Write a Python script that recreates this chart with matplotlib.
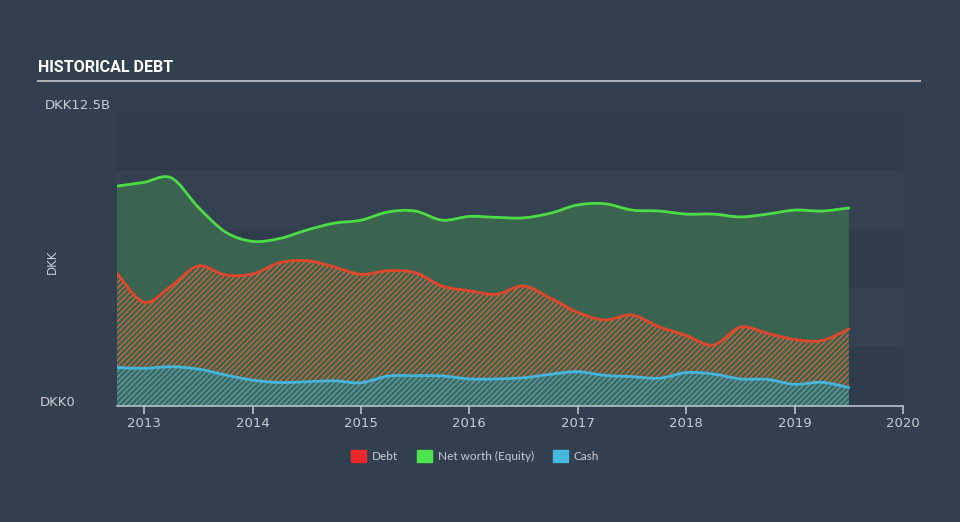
import matplotlib
matplotlib.use("Agg")
import matplotlib.pyplot as plt
from matplotlib.path import Path
from matplotlib.patches import PathPatch
import numpy as np

# quarterly dates (decimal years)
dates = [2012.75, 2013.0, 2013.25, 2013.5, 2013.75, 2014.0, 2014.25, 2014.5,
         2014.75, 2015.0, 2015.25, 2015.5, 2015.75, 2016.0, 2016.25, 2016.5,
         2016.75, 2017.0, 2017.25, 2017.5, 2017.75, 2018.0, 2018.25, 2018.5,
         2018.75, 2019.0, 2019.25, 2019.5]
# values in DKK billions
equity = [9.35, 9.51, 9.70, 8.45, 7.40, 7.00, 7.12, 7.48, 7.77, 7.90, 8.25, 8.29,
          7.90, 8.06, 8.02, 8.00, 8.20, 8.55, 8.60, 8.33, 8.29, 8.16, 8.16, 8.04,
          8.16, 8.33, 8.29, 8.42]
debt = [5.64, 4.41, 5.10, 5.95, 5.57, 5.61, 6.09, 6.18, 5.92, 5.60, 5.75, 5.67,
        5.10, 4.90, 4.75, 5.10, 4.58, 3.98, 3.66, 3.87, 3.37, 3.00, 2.59, 3.35,
        3.09, 2.83, 2.78, 3.27]
cash = [1.64, 1.60, 1.67, 1.57, 1.32, 1.10, 1.00, 1.03, 1.07, 0.99, 1.27, 1.29,
        1.28, 1.15, 1.15, 1.20, 1.35, 1.46, 1.30, 1.25, 1.18, 1.42, 1.36, 1.15,
        1.13, 0.92, 1.01, 0.78]
year_ticks = [2013, 2014, 2015, 2016, 2017, 2018, 2019, 2020]
y_labels = ["DKK0", "DKK12.5B"]

x = np.array(dates, dtype=float)
E = np.array(equity, dtype=float)
D = np.array(debt, dtype=float)
C = np.array(cash, dtype=float)


def bezier_segments(xs, ys):
    """Smooth path (cubic Bezier) through the given points."""
    n = len(xs)
    pts = np.column_stack([xs, ys])
    verts = [tuple(pts[0])]
    codes = [Path.MOVETO]
    for i in range(n - 1):
        p0 = pts[max(i - 1, 0)]
        p1 = pts[i]
        p2 = pts[i + 1]
        p3 = pts[min(i + 2, n - 1)]
        c1 = p1 + (p2 - p0) / 6.0
        c2 = p2 - (p3 - p1) / 6.0
        verts += [tuple(c1), tuple(c2), tuple(p2)]
        codes += [Path.CURVE4] * 3
    return verts, codes


def line_path(xs, ys):
    v, c = bezier_segments(xs, ys)
    return Path(v, c)


def band_path(xs, lo, hi):
    vu, cu = bezier_segments(xs, hi)
    vl, cl = bezier_segments(xs[::-1], lo[::-1])
    verts = vu + [vl[0]] + vl[1:] + [vu[0]]
    codes = cu + [Path.LINETO] + cl[1:] + [Path.CLOSEPOLY]
    return Path(verts, codes)


BG = "#323f4f"
GREEN = "#4ddc45"
RED = "#e0462a"
BLUE = "#45b5dc"
TXT = "#c8ccd2"

plt.rcParams['hatch.linewidth'] = 1.0
fig = plt.figure(figsize=(9.6, 5.22), dpi=100, facecolor=BG)
ax = fig.add_axes([117/960, 1-406/522, (903-117)/960, (406-112)/522])
ax.set_facecolor(BG)
ax.set_xlim(dates[0], 2020)
ax.set_ylim(0, 12.5)

# background bands
for i in range(5):
    col = "#2f3c4b" if i % 2 == 0 else "#344150"
    ax.axhspan(i*2.5, (i+1)*2.5, color=col, zorder=0, lw=0)

zeros = np.zeros_like(x)
ax.add_patch(PathPatch(band_path(x, zeros, E), facecolor="#3a6450", lw=0, zorder=1))
ax.add_patch(PathPatch(band_path(x, C, D), facecolor="none", edgecolor="#c8643c",
                       hatch="//////", lw=0, zorder=2))
ax.add_patch(PathPatch(band_path(x, zeros, C), facecolor="#3d6a5e", edgecolor="#5a9aa8",
                       hatch="//////", lw=0, zorder=2))

for arr, col in [(E, GREEN), (D, RED), (C, BLUE)]:
    ax.add_patch(PathPatch(line_path(x, arr), facecolor="none", edgecolor=col, lw=2,
                           zorder=4, capstyle='round'))

for s in ["top", "right", "left"]:
    ax.spines[s].set_visible(False)
ax.spines["bottom"].set_color("#b8c0ca")
ax.spines["bottom"].set_linewidth(1.2)
ax.set_xticks(year_ticks)
ax.set_xticklabels([str(t) for t in year_ticks], color=TXT, fontsize=9.5)
ax.tick_params(axis='x', colors="#b8c0ca", labelcolor=TXT, length=6, width=1.2, pad=2)
ax.set_yticks([])

fig.text(40/960, 1-403/522, y_labels[0], color=TXT, fontsize=9.5, ha='left', va='center')
fig.text(45/960, 1-106/522, y_labels[1], color=TXT, fontsize=9.5, ha='left', va='center')
fig.text(52/960, 1-262/522, "DKK", color=TXT, fontsize=8.5, rotation=90, ha='center', va='center')

fig.text(38/960, 1-68/522, "HISTORICAL DEBT", color="white", fontsize=11.5, fontweight='bold',
         family=["Roboto", "DejaVu Sans"], ha='left', va='center')
fig.add_artist(plt.Line2D([38/960, 920/960], [1-81/522, 1-81/522], color="#a9adb3", lw=1.5))

# legend
items = [("Debt", "#e8282a", 351), ("Net worth (Equity)", "#4ee44e", 417), ("Cash", "#46b8e0", 553)]
for label, col, px in items:
    fig.patches.append(plt.Rectangle((px/960, 1-462/522), 15/960, 12/522, color=col,
                                     transform=fig.transFigure, figure=fig))
    fig.text((px+21)/960, 1-456/522, label, color=TXT, fontsize=8.5,
             family=["Lato", "DejaVu Sans"], ha='left', va='center')

fig.savefig("out.png", dpi=100, facecolor=BG)
